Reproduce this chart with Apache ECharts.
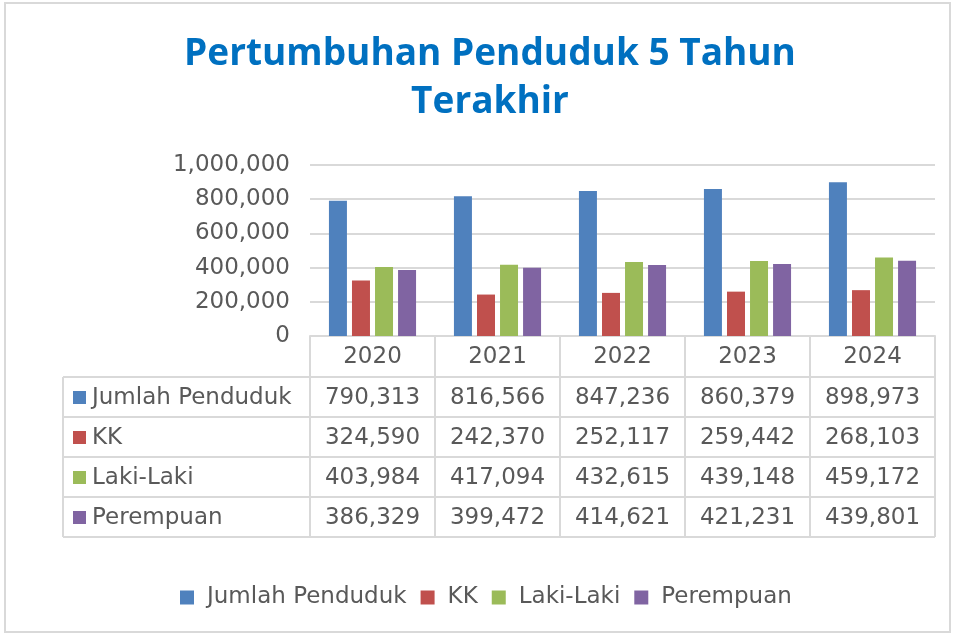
<!DOCTYPE html>
<html>
<head>
<meta charset="utf-8">
<script src="https://cdn.jsdelivr.net/npm/echarts@6/dist/echarts.min.js"></script>
<style>
  html, body { margin: 0; padding: 0; background: #fff; }
  #chart { width: 958px; height: 635px; }
</style>
</head>
<body>
<div id="chart"></div>
<script>
// data
var years = ["2020", "2021", "2022", "2023", "2024"];
var seriesNames = ["Jumlah Penduduk", "KK", "Laki-Laki", "Perempuan"];
var jumlahPenduduk = [790313, 816566, 847236, 860379, 898973];
var kk = [324590, 242370, 252117, 259442, 268103];
var lakiLaki = [403984, 417094, 432615, 439148, 459172];
var perempuan = [386329, 399472, 414621, 421231, 439801];
var colors = ["#4F81BD", "#C0504D", "#9BBB59", "#8064A2"];

var allValues = [jumlahPenduduk, kk, lakiLaki, perempuan];

// layout of plot + data table
var gridLeft = 310, gridRight = 935, gridTop = 165, axisY = 336;
var headerH = 41, rowH = 40, tableLeft = 63;
var colW = (gridRight - gridLeft) / years.length;
var lineColor = "#d9d9d9";
var txtColor = "#595959";
var fontFam = "DejaVu Sans";
var fs = 23;

function fmt(n) {
  return n.toLocaleString("en-US");
}

// build the table below the axis (graphic elements)
var graphics = [];
// outer frame of the chart
graphics.push({
  type: "rect",
  shape: { x: 5, y: 3, width: 945, height: 629 },
  style: { fill: "none", stroke: lineColor, lineWidth: 2 },
  silent: true
});
var bodyTop = axisY + headerH;
var bodyBottom = bodyTop + rowH * seriesNames.length;
// horizontal lines
for (var r = 0; r <= seriesNames.length; r++) {
  var y = bodyTop + r * rowH;
  graphics.push({
    type: "line",
    shape: { x1: tableLeft, y1: y, x2: gridRight, y2: y },
    style: { stroke: lineColor, lineWidth: 2 },
    silent: true
  });
}
// vertical lines
graphics.push({
  type: "line",
  shape: { x1: tableLeft, y1: bodyTop, x2: tableLeft, y2: bodyBottom },
  style: { stroke: lineColor, lineWidth: 2 },
  silent: true
});
for (var c = 0; c <= years.length; c++) {
  var x = gridLeft + c * colW;
  graphics.push({
    type: "line",
    shape: { x1: x, y1: axisY, x2: x, y2: bodyBottom },
    style: { stroke: lineColor, lineWidth: 2 },
    silent: true
  });
}
// row labels with colour keys, and values
for (var s = 0; s < seriesNames.length; s++) {
  var cy = bodyTop + s * rowH + rowH / 2;
  graphics.push({
    type: "rect",
    shape: { x: tableLeft + 10, y: cy - 6, width: 13, height: 13 },
    style: { fill: colors[s] },
    silent: true
  });
  graphics.push({
    type: "text",
    x: tableLeft + 29,
    y: cy + 1,
    style: {
      text: seriesNames[s], fill: txtColor, font: fs + "px '" + fontFam + "'",
      textAlign: "left", textVerticalAlign: "middle"
    },
    silent: true
  });
  for (var k = 0; k < years.length; k++) {
    graphics.push({
      type: "text",
      x: gridLeft + k * colW + colW / 2,
      y: cy + 1,
      style: {
        text: fmt(allValues[s][k]), fill: txtColor, font: fs + "px '" + fontFam + "'",
        textAlign: "center", textVerticalAlign: "middle"
      },
      silent: true
    });
  }
}

var series = seriesNames.map(function (name, i) {
  return {
    name: name,
    type: "bar",
    data: allValues[i],
    barWidth: 18,
    barGap: "28%",
    itemStyle: { color: colors[i] }
  };
});

var myChart = echarts.init(document.getElementById("chart"));
myChart.setOption({
  animation: false,
  title: {
    text: "Pertumbuhan Penduduk 5 Tahun\nTerakhir",
    left: 485,
    textAlign: "center",
    top: 25,
    textStyle: {
      color: "#0070C0",
      fontFamily: "Open Sans",
      fontWeight: "bold",
      fontSize: 37,
      lineHeight: 48
    }
  },
  legend: {
    data: seriesNames,
    bottom: 21,
    left: 175,
    icon: "rect",
    itemWidth: 14,
    itemHeight: 14,
    itemGap: 14,
    selectedMode: false,
    textStyle: { color: txtColor, fontSize: fs, fontFamily: fontFam, padding: [0, 0, 0, 8] }
  },
  grid: {
    left: gridLeft,
    right: 958 - gridRight,
    top: gridTop,
    bottom: 635 - axisY,
    containLabel: false
  },
  xAxis: {
    type: "category",
    data: years,
    axisLine: { show: true, lineStyle: { color: lineColor, width: 2 } },
    axisTick: { show: false },
    axisLabel: { color: txtColor, fontSize: fs, fontFamily: fontFam, margin: 10 }
  },
  yAxis: {
    type: "value",
    min: 0,
    max: 1000000,
    interval: 200000,
    axisLine: { show: false },
    axisTick: { show: false },
    splitLine: { lineStyle: { color: lineColor, width: 2 } },
    axisLabel: {
      color: txtColor,
      fontSize: fs,
      fontFamily: fontFam,
      margin: 20,
      formatter: function (v) { return fmt(v); }
    }
  },
  graphic: graphics,
  series: series
});
</script>
</body>
</html>
